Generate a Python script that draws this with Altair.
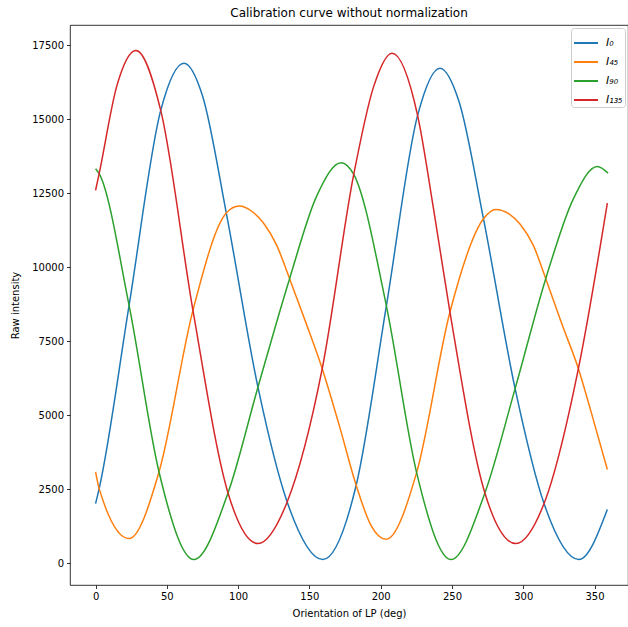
import altair as alt
import pandas as pd

chart_title = "Calibration curve without normalization"
x_title = "Orientation of LP (deg)"
y_title = "Raw intensity"
series_names = ["I₀", "I₄₅", "I₉₀", "I₁₃₅"]
series_colors = ["#1f77b4", "#ff7f0e", "#2ca02c", "#d62728"]
x_ticks = [0, 50, 100, 150, 200, 250, 300, 350]
y_ticks = [0, 2500, 5000, 7500, 10000, 12500, 15000, 17500]

# I0 (blue)
i0_deg = [0, 2.5, 23.5, 45.7, 62, 75, 91.7, 113.9, 134.4, 159.4, 182.8, 204, 225.9, 241.6, 255, 272.1, 294.3, 314.6, 339.1, 359]
i0_val = [2016, 2523, 8716, 15304, 16900, 15800, 11834, 5950, 2071, 125, 2635, 8700, 15135, 16733, 15600, 11645, 5902, 2016, 125, 1814]

# I45 (orange)
i45_deg = [0, 2.5, 23.5, 44.5, 68.3, 91.7, 100.6, 110, 118, 127, 136.1, 147, 159.0, 171, 182.8, 193, 203.8,
           225.2, 248.6, 272.1, 280.8, 290, 298, 307, 315.8, 327, 338.7, 349, 359]
i45_val = [3085, 2523, 833, 3085, 8547, 11834, 12071, 11880, 11480, 10750, 9618, 8200, 6577, 4650, 2635, 1300, 811,
           3064, 8490, 11645, 11959, 11810, 11450, 10750, 9618, 8100, 6577, 4880, 3166]

# I90 (green)
i90_deg = [0, 2.5, 23.5, 44.5, 69.0, 92.9, 113.9, 136.1, 155, 172.3, 181.1, 204, 225.2, 249.3, 273.1, 294.3, 315.8, 335, 352, 359.5]
i90_val = [13334, 13165, 8716, 3085, 125, 2375, 5950, 9618, 12400, 13537, 13142, 8700, 3064, 125, 2375, 5902, 9618, 12300, 13412, 13186]

# I135 (red)
i135_deg = [0, 2.5, 15, 28.3, 45.7, 68.3, 92.9, 113.9, 134.4, 159.0, 181.1, 195, 208, 225.9, 237, 248.6, 273.1, 294.8, 314.6, 338.7, 359]
i135_val = [12601, 13165, 16150, 17331, 15304, 8547, 2375, 665, 2071, 6577, 13142, 16100, 17240, 15135, 12000, 8490, 2375, 665, 2016, 6577, 12172]

rows = []
for name, degs, vals in zip(series_names,
                            [i0_deg, i45_deg, i90_deg, i135_deg],
                            [i0_val, i45_val, i90_val, i135_val]):
    for d, v in zip(degs, vals):
        rows.append({"series": name, "deg": d, "value": v})
df = pd.DataFrame(rows)

font = "DejaVu Sans"

chart = alt.Chart(df).mark_line(strokeWidth=1.5, interpolate="monotone").encode(
    x=alt.X("deg:Q",
            scale=alt.Scale(domain=[-17.95, 373.5], nice=False, zero=False),
            axis=alt.Axis(title=x_title, values=x_ticks, format="d", domain=False,
                          grid=False, tickSize=3.5, labelPadding=3, titlePadding=7)),
    y=alt.Y("value:Q",
            scale=alt.Scale(domain=[-735, 18191], nice=False, zero=False),
            axis=alt.Axis(title=y_title, values=y_ticks, format="d", domain=False,
                          grid=False, tickSize=3.5, labelPadding=3, titlePadding=11)),
    color=alt.Color("series:N",
                    scale=alt.Scale(domain=series_names, range=series_colors),
                    legend=alt.Legend(title=None, orient="none", legendX=501, legendY=3,
                                      fillColor="white", strokeColor="#cccccc",
                                      cornerRadius=3, padding=2,
                                      symbolType="stroke", symbolStrokeWidth=2,
                                      symbolSize=576, labelFontSize=11,
                                      labelFont=font, labelFontStyle="italic",
                                      labelColor="black", rowPadding=1, labelOffset=7)),
).properties(
    width=558,
    height=560,
    title=alt.Title(chart_title, fontSize=12, font=font, fontWeight="normal",
                    color="black", anchor="middle", frame="group", offset=5),
    autosize=alt.AutoSizeParams(type="none"),
    padding={"left": 70, "top": 25, "right": 0, "bottom": 42},
).configure_axis(
    labelFont=font, labelFontSize=10, labelColor="black",
    titleFont=font, titleFontSize=10, titleFontWeight="normal", titleColor="black",
    tickColor="black", tickWidth=0.8,
).configure_view(
    stroke="black", strokeWidth=0.8,
)

chart.save("out.html", embed_options={"renderer": "svg", "actions": False})
